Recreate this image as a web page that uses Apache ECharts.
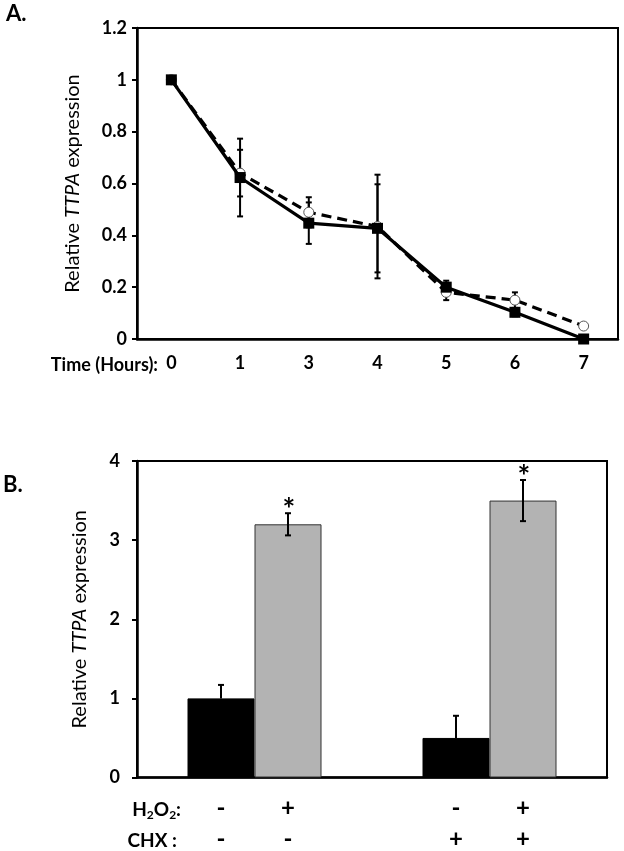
<!DOCTYPE html>
<html>
<head>
<meta charset="utf-8">
<script src="https://cdn.jsdelivr.net/npm/echarts@6/dist/echarts.min.js"></script>
<style>
html, body { margin: 0; padding: 0; background: #fff; }
#chart { width: 624px; height: 851px; }
</style>
</head>
<body>
<div id="chart"></div>
<script>
// panel A - time course
const hours = ['0', '1', '3', '4', '5', '6', '7'];
const squareVals = [1.0, 0.623, 0.447, 0.427, 0.2, 0.103, 0.0];
const squareErr = [0, 0.15, 0.08, 0.17, 0.025, 0.015, 0];
const circleVals = [1.0, 0.64, 0.489, 0.434, 0.18, 0.15, 0.05];
const circleErr = [0, 0.09, 0.058, 0.2, 0.03, 0.03, 0];

// panel B - bars
const groups = ['noCHX', 'CHX'];
const blackVals = [1.0, 0.5];
const blackErr = [0.17, 0.28];
const grayVals = [3.2, 3.5];
const grayErr = [0.14, 0.26];
const h2o2Signs = ['-', '+', '-', '+'];
const chxSigns = ['-', '-', '+', '+'];

const FONT = 'Lato';
const barW = 67;

let chart = echarts.init(document.getElementById('chart'));

function errItem(params, api, opts) {
  let idx = api.value(0);
  let v = api.value(1);
  let e = api.value(2);
  if (!e) return null;
  let dx = opts.dx || 0;
  let mid = api.coord([idx, v]);
  let top = api.coord([idx, v + e]);
  let bot = opts.upOnly ? mid : api.coord([idx, v - e]);
  let x = mid[0] + dx;
  let cw = opts.cap;
  let style = {stroke: '#000', lineWidth: 2};
  let children = [
    {type: 'line', shape: {x1: x, y1: top[1], x2: x, y2: bot[1]}, style: style},
    {type: 'line', shape: {x1: x - cw, y1: top[1], x2: x + cw, y2: top[1]}, style: style}
  ];
  if (!opts.upOnly) {
    children.push({type: 'line', shape: {x1: x - cw, y1: bot[1], x2: x + cw, y2: bot[1]}, style: style});
  }
  if (opts.star) {
    children.push({type: 'text', style: {text: '*', x: x + 1, y: top[1] + 12, align: 'center', verticalAlign: 'bottom',
      font: 'bold 30px ' + FONT, fill: '#000'}});
  }
  return {type: 'group', children: children};
}

let option = {
  animation: false,
  textStyle: {fontFamily: FONT, color: '#000'},
  grid: [
    {left: 137, top: 28, width: 481, height: 311, show: true, borderColor: '#000', borderWidth: 2},
    {left: 137, top: 461, width: 470, height: 317, show: true, borderColor: '#000', borderWidth: 2}
  ],
  xAxis: [
    {
      type: 'category', gridIndex: 0, data: hours, boundaryGap: true,
      axisLine: {lineStyle: {color: '#000', width: 2.5}},
      axisTick: {alignWithLabel: true, length: 5, lineStyle: {color: '#000', width: 2}},
      axisLabel: {margin: 15, fontSize: 18, fontWeight: 'bold', color: '#000', fontFamily: FONT}
    },
    {
      type: 'category', gridIndex: 1, data: groups,
      axisLine: {lineStyle: {color: '#000', width: 2.5}},
      axisTick: {show: false},
      axisLabel: {
        margin: 15, color: '#000', fontFamily: FONT,
        formatter: function (v, i) {
          return '{s|' + h2o2Signs[2 * i] + '}{s|' + h2o2Signs[2 * i + 1] + '}\n' +
                 '{s|' + chxSigns[2 * i] + '}{s|' + chxSigns[2 * i + 1] + '}';
        },
        rich: {s: {width: barW, align: 'center', fontSize: 24, fontWeight: 'bold', lineHeight: 31, fontFamily: FONT}}
      }
    }
  ],
  yAxis: [
    {
      type: 'value', gridIndex: 0, min: 0, max: 1.2, interval: 0.2,
      name: 'Relative {i|TTPA} expression', nameLocation: 'middle', nameGap: 54,
      nameTextStyle: {fontSize: 20, color: '#000', fontFamily: FONT,
        rich: {i: {fontSize: 20, fontStyle: 'italic', fontFamily: FONT}}},
      splitLine: {show: false},
      axisLine: {show: true, lineStyle: {color: '#000', width: 2.5}},
      axisTick: {show: true, length: 5, lineStyle: {color: '#000', width: 2}},
      axisLabel: {margin: 10, fontSize: 18, fontWeight: 'bold', color: '#000', fontFamily: FONT}
    },
    {
      type: 'value', gridIndex: 1, min: 0, max: 4, interval: 1,
      name: 'Relative {i|TTPA} expression', nameLocation: 'middle', nameGap: 47,
      nameTextStyle: {fontSize: 20, color: '#000', fontFamily: FONT,
        rich: {i: {fontSize: 20, fontStyle: 'italic', fontFamily: FONT}}},
      splitLine: {show: false},
      axisLine: {show: true, lineStyle: {color: '#000', width: 2.5}},
      axisTick: {show: true, length: 5, lineStyle: {color: '#000', width: 2}},
      axisLabel: {margin: 17, fontSize: 18, fontWeight: 'bold', color: '#000', fontFamily: FONT}
    }
  ],
  graphic: [
    {type: 'text', left: 6, top: 3, style: {text: 'A.', font: 'bold 22px ' + FONT, fill: '#000'}},
    {type: 'text', left: 3, top: 474, style: {text: 'B.', font: 'bold 22px ' + FONT, fill: '#000'}},
    {type: 'text', x: 158, y: 365, style: {text: 'Time (Hours):', font: 'bold 18px ' + FONT, fill: '#000',
      align: 'right', verticalAlign: 'middle'}},
    {type: 'text', x: 181, y: 810, style: {text: 'H{sub|2}O{sub|2}:', font: 'bold 19px ' + FONT, fill: '#000',
      align: 'right', verticalAlign: 'middle',
      rich: {sub: {font: 'bold 12px ' + FONT, fill: '#000', padding: [10, 0, 0, 0]}}}},
    {type: 'text', x: 177, y: 841, style: {text: 'CHX :', font: 'bold 19px ' + FONT, fill: '#000',
      align: 'right', verticalAlign: 'middle'}}
  ],
  series: [
    {
      type: 'custom', xAxisIndex: 0, yAxisIndex: 0, z: 1,
      data: hours.map((h, i) => [i, circleVals[i], circleErr[i]]),
      renderItem: (p, api) => errItem(p, api, {cap: 3})
    },
    {
      type: 'custom', xAxisIndex: 0, yAxisIndex: 0, z: 1,
      data: hours.map((h, i) => [i, squareVals[i], squareErr[i]]),
      renderItem: (p, api) => errItem(p, api, {cap: 3})
    },
    {
      type: 'line', xAxisIndex: 0, yAxisIndex: 0, z: 2,
      data: circleVals,
      symbol: 'circle', symbolSize: 10,
      lineStyle: {color: '#000', width: 3.2, type: [10, 6]},
      itemStyle: {color: '#fff', borderColor: '#555', borderWidth: 1}
    },
    {
      type: 'line', xAxisIndex: 0, yAxisIndex: 0, z: 3,
      data: squareVals,
      symbol: 'rect', symbolSize: 11,
      lineStyle: {color: '#000', width: 3.2},
      itemStyle: {color: '#000'}
    },
    {
      type: 'bar', xAxisIndex: 1, yAxisIndex: 1,
      data: blackVals, barWidth: barW, barGap: '0%',
      itemStyle: {color: '#000', borderColor: '#000', borderWidth: 1}
    },
    {
      type: 'bar', xAxisIndex: 1, yAxisIndex: 1,
      data: grayVals, barWidth: barW, barGap: '0%',
      itemStyle: {color: '#b3b3b3', borderColor: '#333', borderWidth: 1}
    },
    {
      type: 'custom', xAxisIndex: 1, yAxisIndex: 1, z: 5,
      data: groups.map((g, i) => [i, blackVals[i], blackErr[i]]),
      renderItem: (p, api) => errItem(p, api, {cap: 3, dx: -barW / 2, upOnly: true})
    },
    {
      type: 'custom', xAxisIndex: 1, yAxisIndex: 1, z: 5,
      data: groups.map((g, i) => [i, grayVals[i], grayErr[i]]),
      renderItem: (p, api) => errItem(p, api, {cap: 3, dx: barW / 2, star: true})
    }
  ]
};
chart.setOption(option);
</script>
</body>
</html>
